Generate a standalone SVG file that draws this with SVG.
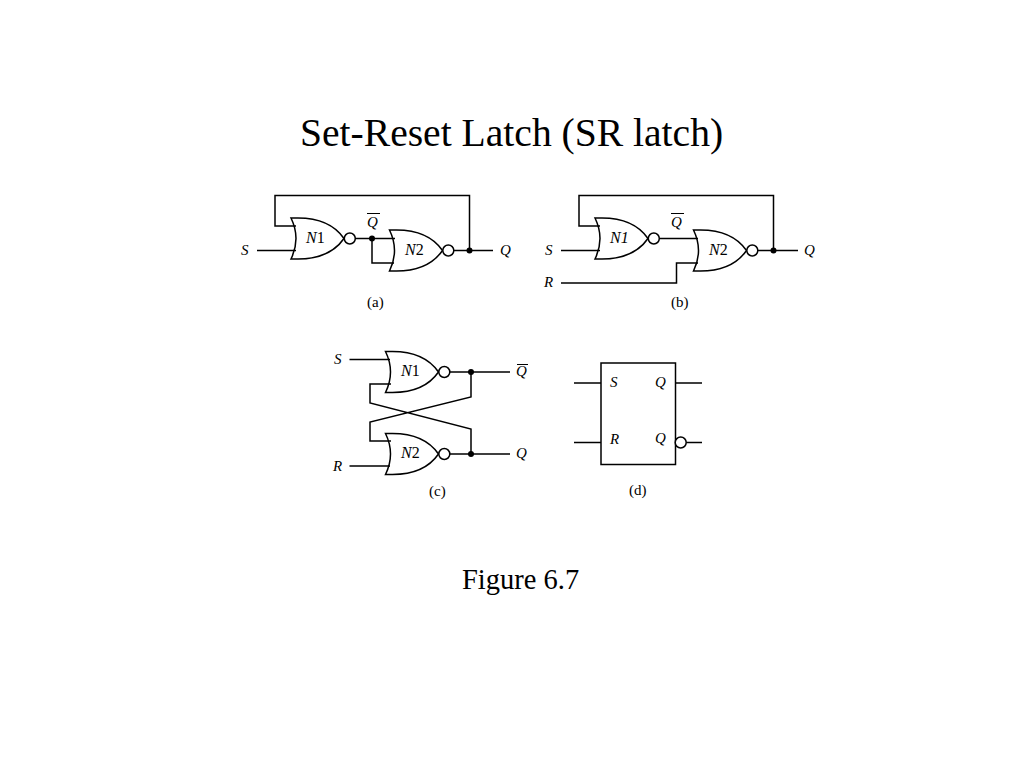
<svg xmlns="http://www.w3.org/2000/svg" width="1024" height="768" viewBox="0 0 1024 768">
<style>
text{font-family:"Liberation Serif","Times New Roman",serif;fill:#000}
.l{font-size:15px;font-style:italic}
.n{font-size:16px;font-style:italic}
.c{font-size:15px}
.g,.w{fill:none;stroke:#000;stroke-width:1.5}
.o{fill:none;stroke:#000;stroke-width:1}
.b{fill:#fff;stroke:#000;stroke-width:1.5}
.d{fill:#000}
</style>
<defs>
<g id="nor">
<path class="g" d="M0 0H7C32 0 45 9 53 20.5C45 32 32 41 7 41H0Q10 20.500 0 0Z"/>
<circle class="b" cx="58.800" cy="20.500" r="5.500"/>
</g>
</defs>
<rect width="1024" height="768" fill="#fff"/>
<text x="300" y="146" font-size="39.600" id="title">Set-Reset Latch (SR latch)</text>
<text x="462" y="589" font-size="28.500" id="caption">Figure 6.7</text>

<g id="connectors">
<path class="w" d="M296 226H275V195.500H469.500V250.500M257 250.500H296M354.500 238.500H395M372 238.500V263H394M453.500 250.500H493"/>
<path class="w" d="M600 226H579V195.500H773.500V250.500M561 250.500H600M658.500 238.500H698M561 283H676.500V263H698M757.500 250.500H798"/>
<path class="w" d="M349.500 359.500H390M449.500 372H510M471 372V397L370 422V441H391M391 384H370V403L471 429V454M449.500 454H510M349.500 466H390"/>
<path class="w" d="M574 383H601M574 442.500H601M675 383H702M686 442.500H702"/>
<circle class="d" cx="372" cy="238.500" r="3"/>
<circle class="d" cx="469.500" cy="250.500" r="3"/>
<circle class="d" cx="773.500" cy="250.500" r="3"/>
<circle class="d" cx="471" cy="372" r="3"/>
<circle class="d" cx="471" cy="454" r="3"/>
<path class="o" d="M367 213.500H380M671 213.500H684M517 364.500H528"/>
</g>

<g id="a-N1"><use href="#nor" x="291" y="218"/><text class="n" x="306" y="242.500">N<tspan font-style="normal">1</tspan></text></g>
<g id="a-N2"><use href="#nor" x="389.500" y="230"/><text class="n" x="405" y="254.500">N<tspan font-style="normal">2</tspan></text></g>
<g id="a-labels">
<text class="l" x="241" y="254.500">S</text>
<text class="l" x="367" y="226.500">Q</text>
<text class="l" x="500" y="255">Q</text>
<text class="c" x="367" y="307">(a)</text>
</g>

<g id="b-N1"><use href="#nor" x="595" y="218"/><text class="n" x="610" y="242.500">N1</text></g>
<g id="b-N2"><use href="#nor" x="693.500" y="230"/><text class="n" x="709" y="254.500">N<tspan font-style="normal">2</tspan></text></g>
<g id="b-labels">
<text class="l" x="545" y="254.500">S</text>
<text class="l" x="544" y="286.500">R</text>
<text class="l" x="671" y="226.500">Q</text>
<text class="l" x="804" y="255">Q</text>
<text class="c" x="671" y="307">(b)</text>
</g>

<g id="c-N1"><use href="#nor" x="385.500" y="351.500"/><text class="n" x="401" y="375.500">N<tspan font-style="normal">1</tspan></text></g>
<g id="c-N2"><use href="#nor" x="385.500" y="433.500"/><text class="n" x="401" y="457.500">N<tspan font-style="normal">2</tspan></text></g>
<g id="c-labels">
<text class="l" x="334" y="363.500">S</text>
<text class="l" x="333" y="470.500">R</text>
<text class="l" x="516" y="376">Q</text>
<text class="l" x="516" y="458">Q</text>
<text class="c" x="429" y="496">(c)</text>
</g>

<g id="d-latch">
<rect class="b" x="601" y="363" width="74.500" height="101.500"/>
<circle class="b" cx="680.700" cy="442.500" r="5.500"/>
<text class="l" x="610" y="386.500">S</text>
<text class="l" x="610" y="443.500">R</text>
<text class="l" x="655" y="387">Q</text>
<text class="l" x="655" y="443">Q</text>
<text class="c" x="629" y="495">(d)</text>
</g>
</svg>
